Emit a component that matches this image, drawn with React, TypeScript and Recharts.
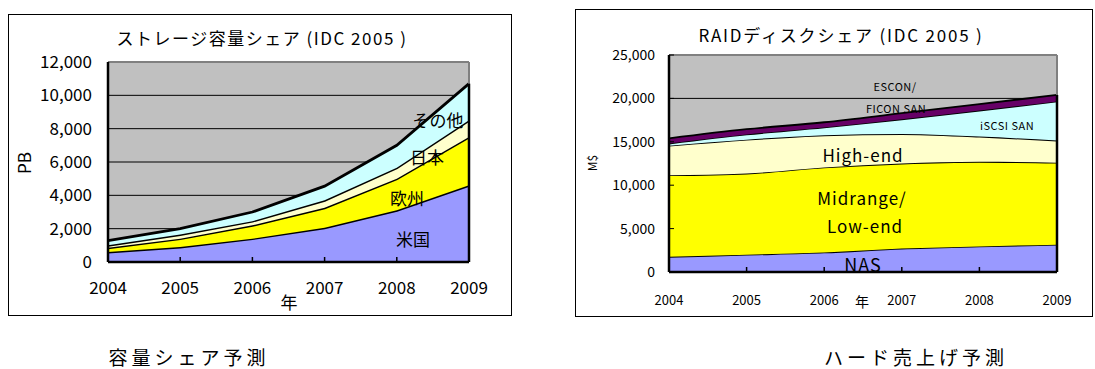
import React from "react";
import {
  AreaChart,
  Area,
  XAxis,
  YAxis,
  CartesianGrid,
  ReferenceLine,
} from "recharts";

// 年
const years = [2004, 2005, 2006, 2007, 2008, 2009];

// ストレージ容量 (PB) - 積み上げの各層
const usa = [600, 900, 1400, 2050, 3100, 4600];
const europe = [250, 500, 800, 1200, 1900, 2900];
const japan = [150, 250, 250, 450, 650, 1000];
const others = [280, 350, 550, 850, 1350, 2200];

// RAIDディスク (M$) - 積み上げの各層
const nas = [1750, 2000, 2250, 2700, 2950, 3150];
const midrange = [9400, 9350, 9800, 9800, 9750, 9450];
const highEnd = [3400, 3900, 3700, 3400, 2900, 2550];
const iscsi = [250, 600, 900, 1700, 3000, 4500];
const escon = [600, 600, 600, 700, 750, 750];

const leftTicks = [0, 2000, 4000, 6000, 8000, 10000, 12000];
const rightTicks = [0, 5000, 10000, 15000, 20000, 25000];

const font = "'Noto Sans CJK JP', 'Noto Sans', sans-serif";

const capacityData = years.map((year, i) => ({
  year,
  usa: usa[i],
  europe: europe[i],
  japan: japan[i],
  others: others[i],
}));

const raidData = years.map((year, i) => ({
  year,
  nas: nas[i],
  midrange: midrange[i],
  highEnd: highEnd[i],
  iscsi: iscsi[i],
  escon: escon[i],
}));

const last = years.length - 1;
const capacityTotal = usa[last] + europe[last] + japan[last] + others[last];
const raidTotal =
  nas[last] + midrange[last] + highEnd[last] + iscsi[last] + escon[last];

const fmt = (v: number) => v.toLocaleString("en-US");

const abs = (
  left: number,
  top: number,
  size: number,
  extra: React.CSSProperties = {}
): React.CSSProperties => ({
  position: "absolute",
  left,
  top,
  fontSize: size,
  fontFamily: font,
  color: "#000",
  whiteSpace: "nowrap",
  transform: "translate(-50%, -50%)",
  lineHeight: 1,
  ...extra,
});

const App = () => {
  return (
    <div
      style={{
        position: "absolute",
        left: 0,
        top: 0,
        width: 1095,
        height: 369,
        background: "#fff",
        fontFamily: font,
      }}
    >
      {/* 左: 容量シェア */}
      <div style={{ position: "absolute", left: 8, top: 14 }}>
        <AreaChart
          width={504}
          height={302}
          data={capacityData}
          margin={{ top: 48, right: 43, bottom: 24, left: 40 }}
        >
          <CartesianGrid
            vertical={false}
            stroke="#000"
            strokeWidth={1}
            fill="#C0C0C0"
            fillOpacity={1}
          />
          <XAxis
            dataKey="year"
            type="number"
            domain={[2004, 2009]}
            ticks={years}
            height={30}
            tickSize={-5}
            tickMargin={25}
            axisLine={{ stroke: "#000", strokeWidth: 2.5 }}
            tickLine={{ stroke: "#000", strokeWidth: 1.5 }}
            tick={{ fill: "#000", fontSize: 17, fontFamily: font }}
          />
          <YAxis
            domain={[0, 12000]}
            ticks={leftTicks}
            width={60}
            tickSize={0}
            tickMargin={16}
            tickFormatter={fmt}
            axisLine={{ stroke: "#000", strokeWidth: 2.5 }}
            tick={{ fill: "#000", fontSize: 17, fontFamily: font }}
          />
          <Area
            type="linear"
            dataKey="usa"
            stackId="a"
            fill="#9999FF"
            fillOpacity={1}
            stroke="#000"
            strokeWidth={2.8}
            isAnimationActive={false}
          />
          <Area
            type="linear"
            dataKey="europe"
            stackId="a"
            fill="#FFFF00"
            fillOpacity={1}
            stroke="#000"
            strokeWidth={2.8}
            isAnimationActive={false}
          />
          <Area
            type="linear"
            dataKey="japan"
            stackId="a"
            fill="#FFFFCC"
            fillOpacity={1}
            stroke="#000"
            strokeWidth={2.8}
            isAnimationActive={false}
          />
          <Area
            type="linear"
            dataKey="others"
            stackId="a"
            fill="#CCFFFF"
            fillOpacity={1}
            stroke="#000"
            strokeWidth={2.8}
            isAnimationActive={false}
          />
          <ReferenceLine y={12000} stroke="#808080" strokeWidth={2} />
          <ReferenceLine x={2009} stroke="#808080" strokeWidth={2} />
          <ReferenceLine
            segment={[
              { x: 2009, y: 0 },
              { x: 2009, y: capacityTotal },
            ]}
            stroke="#000"
            strokeWidth={2.5}
          />
        </AreaChart>
      </div>
      <div
        style={{
          position: "absolute",
          left: 8,
          top: 14,
          width: 504,
          height: 302,
          border: "1px solid #000",
          boxSizing: "border-box",
          pointerEvents: "none",
        }}
      />
      <div style={abs(262, 37, 17, { letterSpacing: 1.5 })}>
        ストレージ容量シェア (IDC 2005 )
      </div>
      <div style={abs(23, 163, 17, { transform: "translate(-50%, -50%) rotate(-90deg)" })}>
        PB
      </div>
      <div style={abs(289, 301, 17)}>年</div>
      <div style={abs(438, 119, 17)}>その他</div>
      <div style={abs(427, 156, 17)}>日本</div>
      <div style={abs(407, 197, 17)}>欧州</div>
      <div style={abs(413, 238, 17)}>米国</div>

      {/* 右: RAIDディスクシェア */}
      <div style={{ position: "absolute", left: 575, top: 9 }}>
        <AreaChart
          width={518}
          height={308}
          data={raidData}
          margin={{ top: 46, right: 36, bottom: 15, left: 34 }}
        >
          <CartesianGrid
            vertical={false}
            stroke="#000"
            strokeWidth={1}
            fill="#C0C0C0"
            fillOpacity={1}
          />
          <XAxis
            dataKey="year"
            type="number"
            domain={[2004, 2009]}
            ticks={years}
            height={30}
            tickSize={-5}
            tickMargin={29}
            axisLine={{ stroke: "#000", strokeWidth: 2.5 }}
            tickLine={{ stroke: "#000", strokeWidth: 1.5 }}
            tick={{ fill: "#000", fontSize: 13, fontFamily: font }}
          />
          <YAxis
            domain={[0, 25000]}
            ticks={rightTicks}
            width={60}
            tickSize={-5}
            tickMargin={19}
            tickFormatter={fmt}
            axisLine={{ stroke: "#000", strokeWidth: 2.5 }}
            tickLine={{ stroke: "#000", strokeWidth: 1 }}
            tick={{ fill: "#000", fontSize: 14, fontFamily: font }}
          />
          <Area
            type="monotone"
            dataKey="nas"
            stackId="b"
            fill="#9999FF"
            fillOpacity={1}
            stroke="#000"
            strokeWidth={1.8}
            isAnimationActive={false}
          />
          <Area
            type="monotone"
            dataKey="midrange"
            stackId="b"
            fill="#FFFF00"
            fillOpacity={1}
            stroke="#000"
            strokeWidth={1.8}
            isAnimationActive={false}
          />
          <Area
            type="monotone"
            dataKey="highEnd"
            stackId="b"
            fill="#FFFFCC"
            fillOpacity={1}
            stroke="#000"
            strokeWidth={1.8}
            isAnimationActive={false}
          />
          <Area
            type="monotone"
            dataKey="iscsi"
            stackId="b"
            fill="#CCFFFF"
            fillOpacity={1}
            stroke="#000"
            strokeWidth={1.8}
            isAnimationActive={false}
          />
          <Area
            type="monotone"
            dataKey="escon"
            stackId="b"
            fill="#660066"
            fillOpacity={1}
            stroke="#000"
            strokeWidth={1.8}
            isAnimationActive={false}
          />
          <ReferenceLine y={25000} stroke="#808080" strokeWidth={2} />
          <ReferenceLine x={2009} stroke="#808080" strokeWidth={2} />
          <ReferenceLine
            segment={[
              { x: 2009, y: 0 },
              { x: 2009, y: raidTotal },
            ]}
            stroke="#000"
            strokeWidth={2.5}
          />
        </AreaChart>
      </div>
      <div
        style={{
          position: "absolute",
          left: 575,
          top: 9,
          width: 518,
          height: 308,
          border: "1px solid #000",
          boxSizing: "border-box",
          pointerEvents: "none",
        }}
      />
      <div style={abs(841, 34, 17, { letterSpacing: 1.8 })}>
        RAIDディスクシェア (IDC 2005 )
      </div>
      <div style={abs(592, 163, 12, { transform: "translate(-50%, -50%) rotate(-90deg)" })}>
        M$
      </div>
      <div style={abs(862, 301, 14)}>年</div>
      <div style={abs(895, 86, 11, { letterSpacing: 0.5 })}>ESCON/</div>
      <div style={abs(896, 108, 11, { letterSpacing: 0.5 })}>FICON SAN</div>
      <div style={abs(1007, 125, 11, { letterSpacing: 0.5 })}>iSCSI SAN</div>
      <div style={abs(863, 154, 17, { letterSpacing: 1 })}>High-end</div>
      <div style={abs(862, 197, 17, { letterSpacing: 1 })}>Midrange/</div>
      <div style={abs(865, 225, 17, { letterSpacing: 1 })}>Low-end</div>
      <div style={abs(863, 264, 18, { letterSpacing: 1 })}>NAS</div>

      {/* キャプション */}
      <div style={abs(189, 356, 19, { letterSpacing: 4 })}>容量シェア予測</div>
      <div style={abs(916, 356, 19, { letterSpacing: 4 })}>ハード売上げ予測</div>
    </div>
  );
};

export default App;
